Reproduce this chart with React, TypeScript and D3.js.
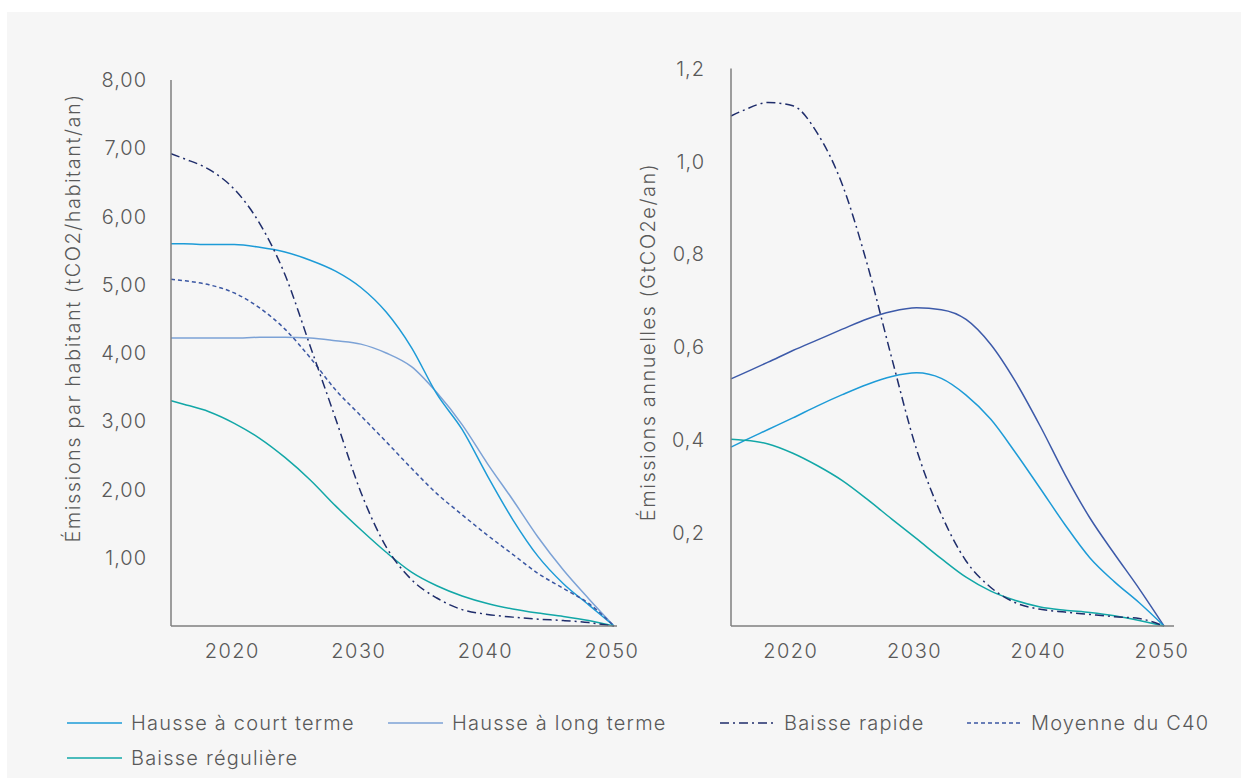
import * as d3 from "d3";

// shared x values (years)
const years = [2015, 2016, 2018, 2020, 2022, 2024, 2026, 2028, 2030, 2032, 2034, 2036, 2038, 2040, 2042, 2044, 2046, 2048, 2050];

// left chart: tCO2 / habitant / an
const courtTermeHab = [5.6, 5.6, 5.59, 5.59, 5.55, 5.48, 5.36, 5.2, 4.96, 4.6, 4.08, 3.4, 2.88, 2.2, 1.56, 1.02, 0.62, 0.31, 0];
const longTermeHab = [4.22, 4.22, 4.22, 4.22, 4.23, 4.23, 4.22, 4.18, 4.13, 4.0, 3.8, 3.42, 2.95, 2.38, 1.85, 1.3, 0.82, 0.4, 0];
const baisseRapideHab = [6.92, 6.85, 6.69, 6.4, 5.9, 5.15, 4.1, 3.04, 1.96, 1.16, 0.68, 0.41, 0.24, 0.17, 0.13, 0.1, 0.08, 0.05, 0];
const moyenneC40Hab = [5.08, 5.06, 5.0, 4.88, 4.66, 4.35, 3.93, 3.46, 3.08, 2.7, 2.31, 1.94, 1.63, 1.33, 1.05, 0.77, 0.55, 0.33, 0];
const baisseRegHab = [3.3, 3.25, 3.14, 2.97, 2.75, 2.47, 2.14, 1.76, 1.41, 1.08, 0.79, 0.59, 0.44, 0.33, 0.25, 0.19, 0.14, 0.08, 0];

// right chart: GtCO2e / an
const hausseHauteAn = [0.532, 0.544, 0.568, 0.593, 0.616, 0.639, 0.661, 0.677, 0.685, 0.681, 0.66, 0.606, 0.526, 0.43, 0.326, 0.233, 0.155, 0.08, 0];
const courtTermeAn = [0.385, 0.398, 0.423, 0.448, 0.474, 0.498, 0.52, 0.537, 0.545, 0.533, 0.497, 0.445, 0.373, 0.296, 0.218, 0.147, 0.095, 0.05, 0];
const baisseRapideAn = [1.098, 1.11, 1.127, 1.12, 1.06, 0.95, 0.78, 0.576, 0.38, 0.24, 0.14, 0.083, 0.05, 0.036, 0.03, 0.025, 0.02, 0.016, 0];
const baisseRegAn = [0.402, 0.4, 0.392, 0.372, 0.345, 0.313, 0.273, 0.23, 0.188, 0.145, 0.105, 0.075, 0.055, 0.041, 0.034, 0.029, 0.022, 0.012, 0];

const xTicks = [2020, 2030, 2040, 2050];
const leftYTicks = [1, 2, 3, 4, 5, 6, 7, 8];
const rightYTicks = [0.2, 0.4, 0.6, 0.8, 1.0, 1.2];

const legendItems = [
    { label: "Hausse à court terme", color: "#1d9bd7", dash: null },
    { label: "Hausse à long terme", color: "#7ca2d6", dash: null },
    { label: "Baisse rapide", color: "#1f2d6b", dash: "9,4,2,4" },
    { label: "Moyenne du C40", color: "#3b57a3", dash: "4,3" },
    { label: "Baisse régulière", color: "#12a7a7", dash: null },
];

const FONT = "Inter, 'Open Sans', sans-serif";
const TEXT = "#595959";
const AXIS = "#7f7f7f";

const Chart = ({ x0, x1, xEnd, yTop, yBottom, yMax, yTicks, fmt, title, titleX, titleY, labelX, series }) => {
    const xScale = d3.scaleLinear().domain([2015, 2050]).range([x0, x1]);
    const yScale = d3.scaleLinear().domain([0, yMax]).range([yBottom, yTop]);
    const line = d3
        .line()
        .x((d) => xScale(d[0]))
        .y((d) => yScale(d[1]))
        .curve(d3.curveMonotoneX);

    return (
        <g>
            {series.map((s, i) => (
                <path
                    key={`line-${i}`}
                    d={line(years.map((y, j) => [y, s.values[j]]))}
                    fill="none"
                    stroke={s.color}
                    strokeWidth={1.5}
                    strokeDasharray={s.dash ?? undefined}
                />
            ))}
            <line x1={x0} x2={x0} y1={yTop} y2={yBottom} stroke={AXIS} strokeWidth={1.5} />
            <line x1={x0} x2={xEnd} y1={yBottom} y2={yBottom} stroke={AXIS} strokeWidth={1.5} />
            {yTicks.map((t) => (
                <text
                    key={`yt-${t}`}
                    x={labelX}
                    y={yScale(t)}
                    dy="0.35em"
                    textAnchor="end"
                    fontSize={20}
                    letterSpacing={1}
                    fill={TEXT}
                >
                    {fmt(t)}
                </text>
            ))}
            {xTicks.map((t) => (
                <text
                    key={`xt-${t}`}
                    x={xScale(t) - 2}
                    y={yBottom + 25}
                    dy="0.35em"
                    textAnchor="middle"
                    fontSize={20}
                    letterSpacing={1.5}
                    fill={TEXT}
                >
                    {t}
                </text>
            ))}
            <text
                transform={`translate(${titleX},${titleY}) rotate(-90)`}
                textAnchor="middle"
                dy="0.35em"
                fontSize={20}
                letterSpacing={1.5}
                fill={TEXT}
            >
                {title}
            </text>
        </g>
    );
};

const App = () => {
    const leftSeries = [
        { values: longTermeHab, ...legendItems[1] },
        { values: courtTermeHab, ...legendItems[0] },
        { values: moyenneC40Hab, ...legendItems[3] },
        { values: baisseRegHab, ...legendItems[4] },
        { values: baisseRapideHab, ...legendItems[2] },
    ];
    const rightSeries = [
        { values: hausseHauteAn, color: "#3d5aa9", dash: null },
        { values: courtTermeAn, ...legendItems[0] },
        { values: baisseRegAn, ...legendItems[4] },
        { values: baisseRapideAn, ...legendItems[2] },
    ];
    const legendPos = [
        [67, 723],
        [388, 723],
        [720, 723],
        [967, 723],
        [67, 758],
    ];

    return (
        <div style={{ position: "absolute", left: 0, top: 0 }}>
            <svg width={1248} height={778} style={{ display: "block", fontFamily: FONT, fontWeight: 300 }}>
                <rect width={1248} height={778} fill="#ffffff" />
                <rect x={7} y={12} width={1234} height={766} fill="#f6f6f6" />
                <Chart
                    x0={171}
                    x1={614}
                    xEnd={617}
                    yTop={80}
                    yBottom={626}
                    yMax={8}
                    yTicks={leftYTicks}
                    fmt={(v) => v.toFixed(2).replace(".", ",")}
                    title="Émissions par habitant (tCO2/habitant/an)"
                    titleX={73}
                    titleY={318}
                    labelX={147}
                    series={leftSeries}
                />
                <Chart
                    x0={731}
                    x1={1164}
                    xEnd={1174}
                    yTop={68.6}
                    yBottom={626}
                    yMax={1.2}
                    yTicks={rightYTicks}
                    fmt={(v) => v.toFixed(1).replace(".", ",")}
                    title="Émissions annuelles (GtCO2e/an)"
                    titleX={648}
                    titleY={342}
                    labelX={705}
                    series={rightSeries}
                />
                {legendItems.map((l, i) => (
                    <g key={`leg-${i}`} transform={`translate(${legendPos[i][0]},${legendPos[i][1]})`}>
                        <line
                            x1={0}
                            x2={55}
                            y1={0}
                            y2={0}
                            stroke={l.color}
                            strokeWidth={1.5}
                            strokeDasharray={l.dash ?? undefined}
                        />
                        <text x={64} y={0} dy="0.35em" fontSize={20} letterSpacing={1.2} fill={TEXT}>
                            {l.label}
                        </text>
                    </g>
                ))}
            </svg>
        </div>
    );
};

export default App;
